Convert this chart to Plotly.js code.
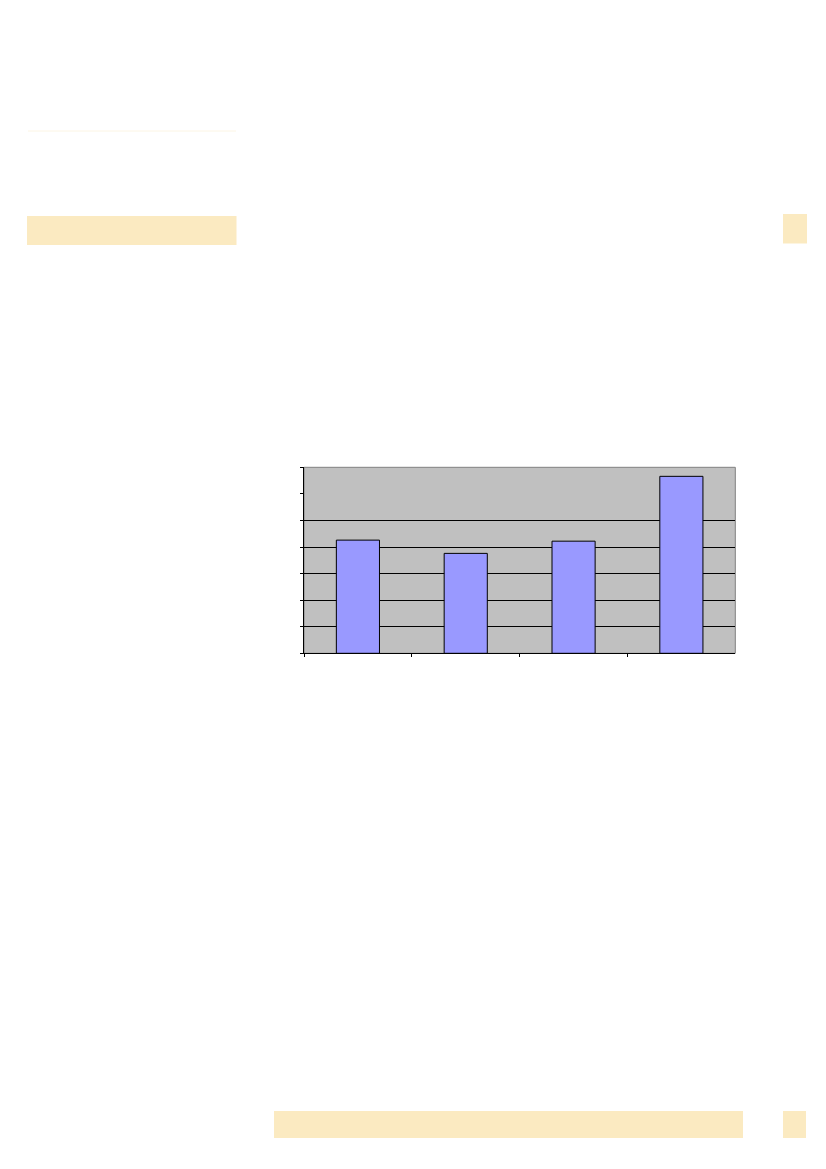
<!DOCTYPE html>
<html>
<head>
<meta charset="utf-8">
<script src="https://cdn.plot.ly/plotly-3.0.1.min.js"></script>
<style>
  html, body { margin: 0; padding: 0; background: #ffffff; }
  #chart { width: 826px; height: 1169px; }
</style>
</head>
<body>
<div id="chart"></div>
<script>
// four groups, no labels printed on the chart
var categories = ["1", "2", "3", "4"];
var values = [21.3, 18.8, 21.1, 33.3];
var gridValues = [5, 10, 15, 20, 25];

var W = 826, H = 1169;
function px(x) { return x / W; }
function py(y) { return 1 - y / H; }

var pageYellow = "#fbeac1";

var data = [
  {
    type: "bar",
    x: categories,
    y: values,
    marker: { color: "#9999ff", line: { color: "#000000", width: 1 } },
    hoverinfo: "skip"
  },
  {
    // invisible trace so the grid axis gets drawn
    type: "scatter",
    x: categories,
    y: values,
    yaxis: "y2",
    mode: "none",
    showlegend: false,
    hoverinfo: "skip"
  }
];

var layout = {
  width: W,
  height: H,
  margin: { t: 0, r: 0, l: 0, b: 0 },
  paper_bgcolor: "#ffffff",
  plot_bgcolor: "#c0c0c0",
  showlegend: false,
  bargap: 0.6,
  xaxis: {
    domain: [px(304), px(735.3)],
    type: "category",
    range: [-0.5, 3.5],
    tickson: "boundaries",
    ticks: "outside",
    ticklen: 3,
    tickcolor: "#000000",
    showticklabels: false,
    showgrid: false,
    showline: true,
    linecolor: "#000000",
    linewidth: 1,
    zeroline: false,
    fixedrange: true
  },
  yaxis: {
    domain: [py(653.3), py(467.3)],
    range: [0, 35],
    dtick: 5,
    ticks: "outside",
    ticklen: 3,
    tickcolor: "#000000",
    showticklabels: false,
    showgrid: false,
    showline: true,
    linecolor: "#000000",
    linewidth: 1,
    zeroline: false,
    fixedrange: true
  },
  yaxis2: {
    overlaying: "y",
    anchor: "x",
    range: [0, 35],
    tickvals: gridValues,
    showticklabels: false,
    ticks: "",
    showgrid: true,
    gridcolor: "#000000",
    gridwidth: 1,
    showline: false,
    zeroline: false,
    fixedrange: true
  },
  shapes: [
    // grey frame on top and right of the plot area
    { type: "rect", xref: "x domain", yref: "y domain", x0: 0, x1: 1, y0: 0, y1: 1,
      line: { color: "#808080", width: 1 }, fillcolor: "rgba(0,0,0,0)", layer: "below" },
    // page decorations
    { type: "line", xref: "paper", yref: "paper", x0: px(28), x1: px(236), y0: py(131), y1: py(131),
      line: { color: "#fcf5e4", width: 1 } },
    { type: "rect", xref: "paper", yref: "paper", x0: px(27), x1: px(236.5), y0: py(245), y1: py(216),
      fillcolor: pageYellow, line: { width: 0 } },
    { type: "rect", xref: "paper", yref: "paper", x0: px(783), x1: px(807), y0: py(243.5), y1: py(214),
      fillcolor: pageYellow, line: { width: 0 } },
    { type: "rect", xref: "paper", yref: "paper", x0: px(274), x1: px(743), y0: py(1138), y1: py(1111),
      fillcolor: pageYellow, line: { width: 0 } },
    { type: "rect", xref: "paper", yref: "paper", x0: px(783), x1: px(806), y0: py(1138), y1: py(1111),
      fillcolor: pageYellow, line: { width: 0 } }
  ],
  font: { family: "Liberation Sans", color: "#000000" }
};

Plotly.newPlot("chart", data, layout, { displayModeBar: false, staticPlot: true });
</script>
</body>
</html>
